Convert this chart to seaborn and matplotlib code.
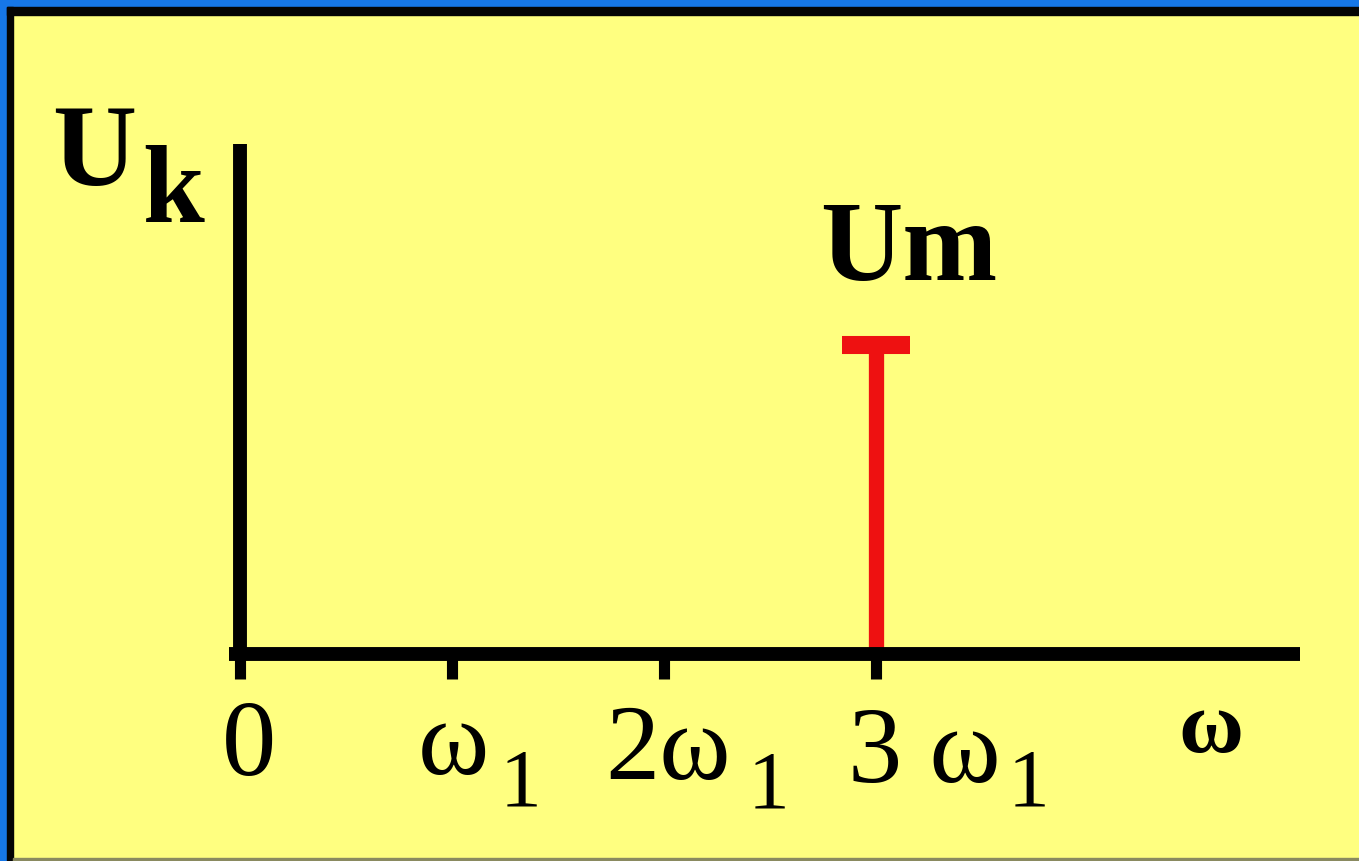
import matplotlib
matplotlib.use("Agg")
import matplotlib.pyplot as plt
import seaborn as sns
from matplotlib.patches import Rectangle

# spectrum of a single harmonic: only the 3rd has amplitude Um
harmonics = [0, 1, 2, 3]
amplitudes = [0.0, 0.0, 0.0, 1.0]
tick_main = ["0", "ω", "2ω", "3 ω"]
tick_sub = ["", "1", "1", "1"]
y_label = ("U", "k")
peak_label = "Um"
x_label = "ω"

sns.set_theme(style="white")
plt.rcParams["font.family"] = ["Liberation Serif", "DejaVu Serif"]
plt.rcParams["text.color"] = "black"

W, H = 1359, 862
BG = "#ffff80"
fig = plt.figure(figsize=(W / 100, H / 100), dpi=100, facecolor=BG)


def fx(px, py):
    return px / W, 1 - py / H


# frame: blue strip + black line on top and left
fig.patches.append(Rectangle((0, 1 - 8 / H), 1, 8 / H, transform=fig.transFigure, color="#1677e8", zorder=0))
fig.patches.append(Rectangle((0, 0), 7 / W, 1, transform=fig.transFigure, color="#1677e8", zorder=0))
fig.patches.append(Rectangle((7 / W, 1 - 16 / H), 1, 8 / H, transform=fig.transFigure, color="#050505", zorder=0))
fig.patches.append(Rectangle((7 / W, 0), 6 / W, 1 - 8 / H, transform=fig.transFigure, color="#050505", zorder=0))
fig.patches.append(Rectangle((13 / W, 0), 1, 3 / H, transform=fig.transFigure, color="#8a8a60", zorder=0))

# axes: left spine at px 240, bottom spine at px 655
left, right, top, bottom = 240, 1300, 145, 655
ax = fig.add_axes([left / W, 1 - bottom / H, (right - left) / W, (bottom - top) / H])
ax.set_facecolor("none")
ax.set_xlim(0, 5)
ax.set_ylim(0, 1.65)
for side in ["top", "right"]:
    ax.spines[side].set_visible(False)
for side in ["left", "bottom"]:
    ax.spines[side].set_color("black")
    ax.spines[side].set_linewidth(10)
    ax.spines[side].set_capstyle("butt")
ax.spines["bottom"].set_bounds(-0.05, 5)
ax.set_xticks(harmonics)
ax.set_xticklabels([])
ax.set_yticks([])
ax.tick_params(axis="x", direction="out", length=18, width=8, color="black", bottom=True)
ax.grid(False)

# stems with a cap on top
for h, a in zip(harmonics, amplitudes):
    if a > 0:
        ax.vlines(h, 0, a, color="#ee1111", linewidth=11, zorder=2)
        ax.hlines(a, h - 0.16, h + 0.16, color="#ee1111", linewidth=13, zorder=2)

# tick labels
main_pos = [(222, 775), (418, 774), (605, 779), (848, 782)]
sub_pos = [None, (500, 806), (748, 808), (1008, 806)]
for m, s, mp, sp in zip(tick_main, tick_sub, main_pos, sub_pos):
    fig.text(*fx(*mp), m, fontsize=78, va="baseline", ha="left", color="black")
    if s:
        fig.text(*fx(*sp), s, fontsize=60, va="baseline", ha="left", color="black")

fig.text(*fx(1178, 752), x_label, fontsize=64, fontweight="bold", va="baseline", ha="left", color="black")
fig.text(*fx(52, 185), y_label[0], fontsize=84, fontweight="bold", va="baseline", ha="left", color="black")
fig.text(*fx(142, 222), y_label[1], fontsize=80, fontweight="bold", va="baseline", ha="left", color="black")
fig.text(*fx(820, 280), peak_label, fontsize=82, fontweight="bold", va="baseline", ha="left", color="black")

fig.savefig("out.png", dpi=100, facecolor=BG)
